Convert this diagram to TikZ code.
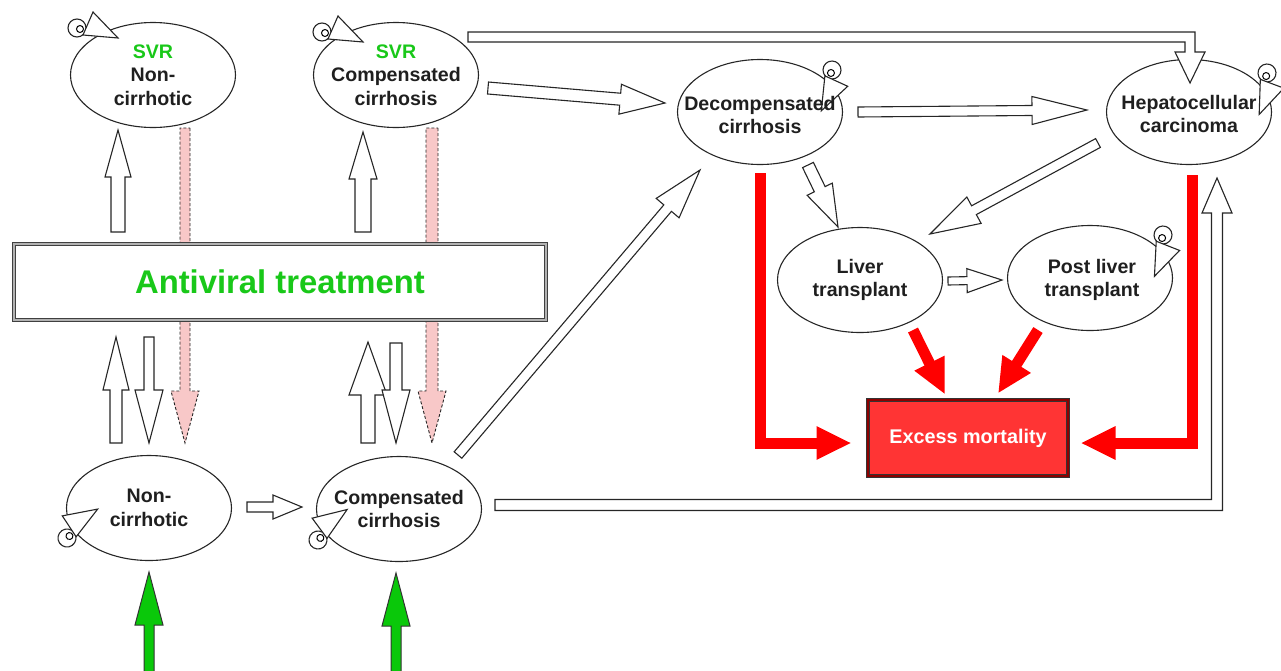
\documentclass[tikz,border=0pt]{standalone}
\usepackage{fontspec}
\setmainfont{Liberation Sans}
\usepackage{tikz}
\usetikzlibrary{shapes.geometric,calc,arrows.meta}

\definecolor{svrgreen}{RGB}{25,200,25}
\definecolor{pinkfill}{RGB}{248,200,200}
\definecolor{deathred}{RGB}{255,0,0}
\definecolor{boxred}{RGB}{255,52,52}
\definecolor{inflowgreen}{RGB}{10,200,10}

\tikzset{
    state/.style={ellipse, draw=black!85, line width=1.1pt, fill=white, minimum width=165pt, minimum height=105pt, inner sep=0pt},
    lbl/.style={align=center, font=\fontsize{19.6}{23.5}\selectfont\bfseries, text=black!88},
    hollow/.style={draw=black!85, line width=1.1pt, fill=white, line join=miter},
    pinkarrow/.style={draw=black!85, line width=0.9pt, dash pattern=on 3pt off 2pt, fill=pinkfill},
    greenarrow/.style={draw=black!80, line width=1pt, fill=inflowgreen},
    deatharrow/.style={draw=deathred, line width=11pt, line join=miter, -{Triangle[length=35pt,width=31pt]}},
}

% [style]{start}{tip}{half shaft}{half head}{head length}
\newcommand{\blockarrow}[6][hollow]{%
    \coordinate (ba-s) at #2;
    \coordinate (ba-e) at #3;
    \coordinate (ba-h) at ($(ba-e)!#6!(ba-s)$);
    \draw[#1] ($(ba-s)!#4!90:(ba-e)$) -- ($(ba-h)!#4!90:(ba-e)$) -- ($(ba-h)!#5!90:(ba-e)$) -- (ba-e)
        -- ($(ba-h)!#5!-90:(ba-e)$) -- ($(ba-h)!#4!-90:(ba-e)$) -- ($(ba-s)!#4!-90:(ba-e)$) -- cycle;
}
% {centre of the curl}{turn}
\newcommand{\selfloop}[2]{%
    \begin{scope}[shift={#1}, rotate=#2]
        \draw[hollow] (0,0) circle (9);
        \draw[line width=1pt] (3,1) circle (3.5);
        \draw[hollow] (16,-16) -- (41,10) -- (6,7) -- cycle;
    \end{scope}
}

\begin{document}
\begin{tikzpicture}[x=1pt, y=-1pt]
        \useasboundingbox (0,0) rectangle (1281,670);

        % states
        \node[state] (svrnc) at (153,75) {};
        \node[state] (svrcc) at (396,75) {};
        \node[state] (dc) at (760,112) {};
        \node[state] (hcc) at (1189,112) {};
        \node[state] (lt) at (860,280) {};
        \node[state] (plt) at (1090,278) {};
        \node[state] (nc) at (149,508) {};
        \node[state] (cc) at (399,509) {};

        \selfloop{(77,28)}{0}
        \selfloop{(322,32)}{0}
        \selfloop{(832,70)}{-91}
        \selfloop{(1267,73)}{-87}
        \selfloop{(1163,235)}{-88}
        \selfloop{(67,538)}{57}
        \selfloop{(318,540)}{60}

        % treatment effect, behind the box
        \blockarrow[pinkarrow]{($(svrnc)+(32,53)$)}{($(nc)+(36,-65)$)}{5pt}{14pt}{52pt}
        \blockarrow[pinkarrow]{($(svrcc)+(36,53)$)}{($(cc)+(33,-66)$)}{6pt}{14pt}{52pt}

        \node[draw=black!75, line width=1pt, double=black!30, double distance=2pt, fill=white,
              minimum width=532pt, minimum height=76pt] (treat) at (280,282)
              {\fontsize{32.8}{36}\selectfont\bfseries\color{svrgreen}Antiviral treatment};
        \node[draw=black!80, line width=1pt, double=red!55!black, double distance=2pt, fill=boxred,
              minimum width=200pt, minimum height=76pt, text=white] (em) at (968,438)
              {\fontsize{19.8}{22}\selectfont\bfseries Excess mortality};

        % treatment box <-> states
        \blockarrow{($(svrnc)+(-35,157)$)}{($(svrnc)+(-35,55)$)}{7pt}{13pt}{47pt}
        \blockarrow{($(svrcc)+(-33,157)$)}{($(svrcc)+(-33,57)$)}{8pt}{14pt}{47pt}
        \blockarrow{($(nc)+(-33,-65)$)}{($(nc)+(-33,-171)$)}{6pt}{13pt}{53pt}
        \blockarrow{($(nc)+(0,-171)$)}{($(nc)+(0,-65)$)}{5pt}{14pt}{53pt}
        \blockarrow{($(cc)+(-31,-66)$)}{($(cc)+(-31,-167)$)}{7pt}{19pt}{53pt}
        \blockarrow{($(cc)+(-3,-166)$)}{($(cc)+(-3,-66)$)}{6pt}{14pt}{53pt}

        % progression
        \blockarrow{($(nc)+(98,-1)$)}{($(cc)+(-97,-2)$)}{5pt}{12pt}{29pt}
        \blockarrow{($(cc)+(59,-54)$)}{($(dc)+(-60,58)$)}{5pt}{15pt}{50pt}
        \blockarrow{($(svrcc)+(92,13)$)}{($(dc)+(-95,-9)$)}{6pt}{15pt}{45pt}
        \blockarrow{($(dc)+(98,0)$)}{($(hcc)+(-102,-2)$)}{5pt}{14pt}{55pt}
        \blockarrow{($(hcc)+(-91,31)$)}{($(lt)+(70,-46)$)}{5pt}{15pt}{50pt}
        \blockarrow{($(dc)+(48,53)$)}{($(lt)+(-22,-53)$)}{6pt}{14pt}{42pt}
        \blockarrow{($(lt)+(88,1)$)}{($(plt)+(-88,2)$)}{4pt}{12pt}{35pt}

        \coordinate (gs) at ($(svrcc)+(72,-38)$);
        \coordinate (ge) at ($(hcc)+(1,-29)$);
        \draw[hollow] ($(gs)+(0,-5)$) -- ($(ge|-gs)+(5,-5)$) -- ($(ge)+(5,-31)$) -- ($(ge)+(15,-31)$) -- (ge)
            -- ($(ge)+(-15,-31)$) -- ($(ge)+(-5,-31)$) -- ($(ge|-gs)+(-5,5)$) -- ($(gs)+(0,5)$) -- cycle;

        \coordinate (ls) at ($(cc)+(96,-4)$);
        \coordinate (le) at ($(hcc)+(28,66)$);
        \draw[hollow] ($(ls)+(0,-5.5)$) -- ($(le|-ls)+(-5.5,-5.5)$) -- ($(le)+(-5.5,35)$) -- ($(le)+(-15,35)$) -- (le)
            -- ($(le)+(15,35)$) -- ($(le)+(5.5,35)$) -- ($(le|-ls)+(5.5,5.5)$) -- ($(ls)+(0,5.5)$) -- cycle;

        % mortality
        \draw[deatharrow] ($(dc.south)+(0,8)$) |- ($(em.west)+(-16,5)$);
        \draw[deatharrow] ($(hcc.south)+(3,10)$) |- ($(em.east)+(12,5)$);
        \draw[deatharrow] ($(lt)+(53,50)$) -- ($(em.north)+(-23,-5)$);
        \draw[deatharrow] ($(plt)+(-52,52)$) -- ($(em.north)+(30,-6)$);

        % incident cases
        \foreach \n/\dx in {nc/0, cc/-3}{
            \blockarrow[greenarrow]{($(\n)+(\dx,165)$)}{($(\n)+(\dx,64)$)}{5pt}{14pt}{53pt}
        }

        % labels
        \node[lbl] at (svrnc) {{\color{svrgreen}SVR}\\Non-\\cirrhotic};
        \node[lbl] at (svrcc) {{\color{svrgreen}SVR}\\Compensated\\cirrhosis};
        \node[lbl] at ($(dc)+(0,3)$) {Decompensated\\cirrhosis};
        \node[lbl] at ($(hcc)+(0,2)$) {Hepatocellular\\carcinoma};
        \node[lbl] at (lt) {Liver\\transplant};
        \node[lbl] at ($(plt)+(2,2)$) {Post liver\\transplant};
        \node[lbl] at (nc) {Non-\\cirrhotic};
        \node[lbl] at (cc) {Compensated\\cirrhosis};
\end{tikzpicture}
\end{document}
